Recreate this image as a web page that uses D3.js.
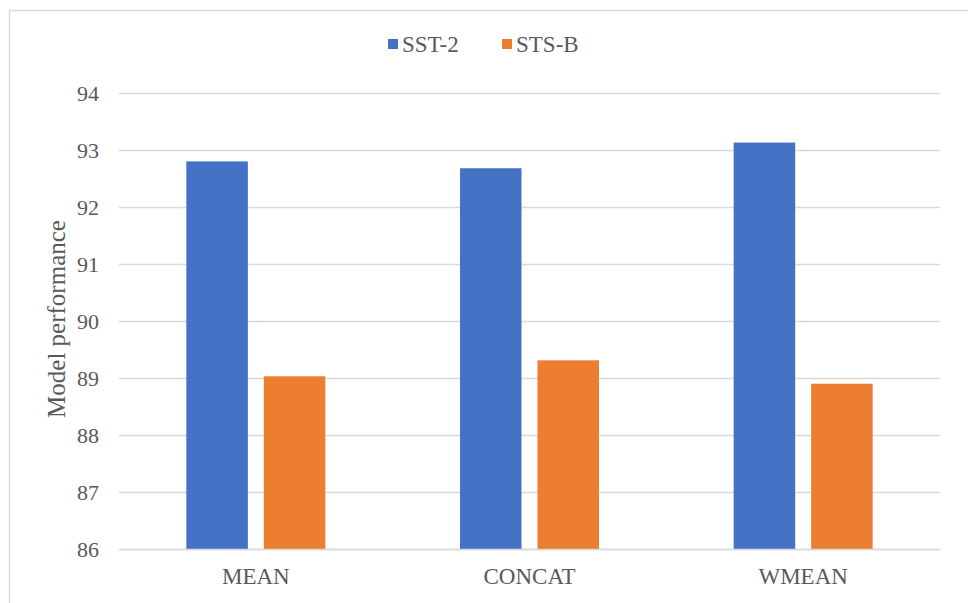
<!DOCTYPE html>
<html>
<head>
<meta charset="utf-8">
<script src="https://cdn.jsdelivr.net/npm/d3@7"></script>
<style>
  html, body { margin: 0; padding: 0; background: #ffffff; }
  svg { display: block; }
  svg text { font-family: "Liberation Serif", "Times New Roman", serif !important; fill: #595959; }
</style>
</head>
<body>
<svg id="chart" width="968" height="603"></svg>
<script>
// Grouped bar chart: model performance per pooling strategy
const categories = ["MEAN", "CONCAT", "WMEAN"];
const seriesNames = ["SST-2", "STS-B"];
const sst2Values = [92.8, 92.68, 93.13];
const stsbValues = [89.03, 89.31, 88.9];
const yTicks = [86, 87, 88, 89, 90, 91, 92, 93, 94];
const colors = ["#4472C4", "#ED7D31"];

const seriesValues = [sst2Values, stsbValues];
const serif = "'Liberation Serif', 'Times New Roman', serif";

const svg = d3.select("#chart");
const W = 968, H = 603;

// Outer chart frame
svg.append("path")
  .attr("d", `M${W + 2},10.5 H9.5 V${H + 2}`)
  .attr("fill", "none")
  .attr("stroke", "#d9d9d9")
  .attr("stroke-width", 1.5);

const plot = { left: 119, right: 940, top: 93, bottom: 549 };

const y = d3.scaleLinear()
  .domain([d3.min(yTicks), d3.max(yTicks)])
  .range([plot.bottom, plot.top]);

const x0 = d3.scaleBand()
  .domain(categories)
  .range([plot.left, plot.right])
  .padding(0);

// Two bars per group, with a small gap between them
const groupW = 139;
const x1 = d3.scaleBand()
  .domain(seriesNames)
  .range([(x0.bandwidth() - groupW) / 2, (x0.bandwidth() + groupW) / 2])
  .paddingInner(0.206)
  .paddingOuter(0);

// Horizontal gridlines with value labels
const yAxis = d3.axisLeft(y)
  .tickValues(yTicks)
  .tickSize(-(plot.right - plot.left))
  .tickPadding(20)
  .tickFormat(d3.format("d"));

const gy = svg.append("g")
  .attr("transform", `translate(${plot.left},0)`)
  .call(yAxis)
  .attr("font-family", null);
gy.select(".domain").remove();
gy.selectAll(".tick line").attr("stroke", "#d9d9d9").attr("stroke-width", 1.3);
gy.selectAll(".tick text")
  .style("font-family", serif)
  .style("font-size", "22px")
  .attr("fill", "#595959");

// Bars
const groups = svg.append("g").selectAll("g")
  .data(categories)
  .join("g")
  .attr("transform", d => `translate(${x0(d)},0)`);

groups.selectAll("rect")
  .data((c, i) => seriesNames.map((s, k) => ({ s, k, v: seriesValues[k][i] })))
  .join("rect")
  .attr("x", d => x1(d.s))
  .attr("width", x1.bandwidth())
  .attr("y", d => y(d.v))
  .attr("height", d => y(yTicks[0]) - y(d.v))
  .attr("fill", d => colors[d.k]);

// Category axis
const xAxis = d3.axisBottom(x0).tickSize(0).tickPadding(19);
const gx = svg.append("g")
  .attr("transform", `translate(0,${plot.bottom})`)
  .call(xAxis)
  .attr("font-family", null);
gx.select(".domain").attr("stroke", "#d9d9d9").attr("stroke-width", 1.3);
gx.selectAll(".tick text")
  .style("font-family", serif)
  .style("font-size", "23px")
  .attr("fill", "#595959");

// Y axis title
svg.append("text")
  .attr("transform", `translate(65,319) rotate(-90)`)
  .attr("text-anchor", "middle")
  .style("font-family", serif)
  .style("font-size", "25px")
  .text("Model performance");

// Legend
const legend = svg.append("g").attr("transform", "translate(388,44)");
const legendX = [0, 114];
seriesNames.forEach((s, k) => {
  const g = legend.append("g").attr("transform", `translate(${legendX[k]},0)`);
  g.append("rect")
    .attr("x", 0).attr("y", -5)
    .attr("width", 10).attr("height", 10)
    .attr("fill", colors[k]);
  g.append("text")
    .attr("x", 14).attr("y", 0)
    .attr("dy", "0.35em")
    .style("font-family", serif)
    .style("font-size", "23px")
    .text(s);
});
</script>
</body>
</html>
